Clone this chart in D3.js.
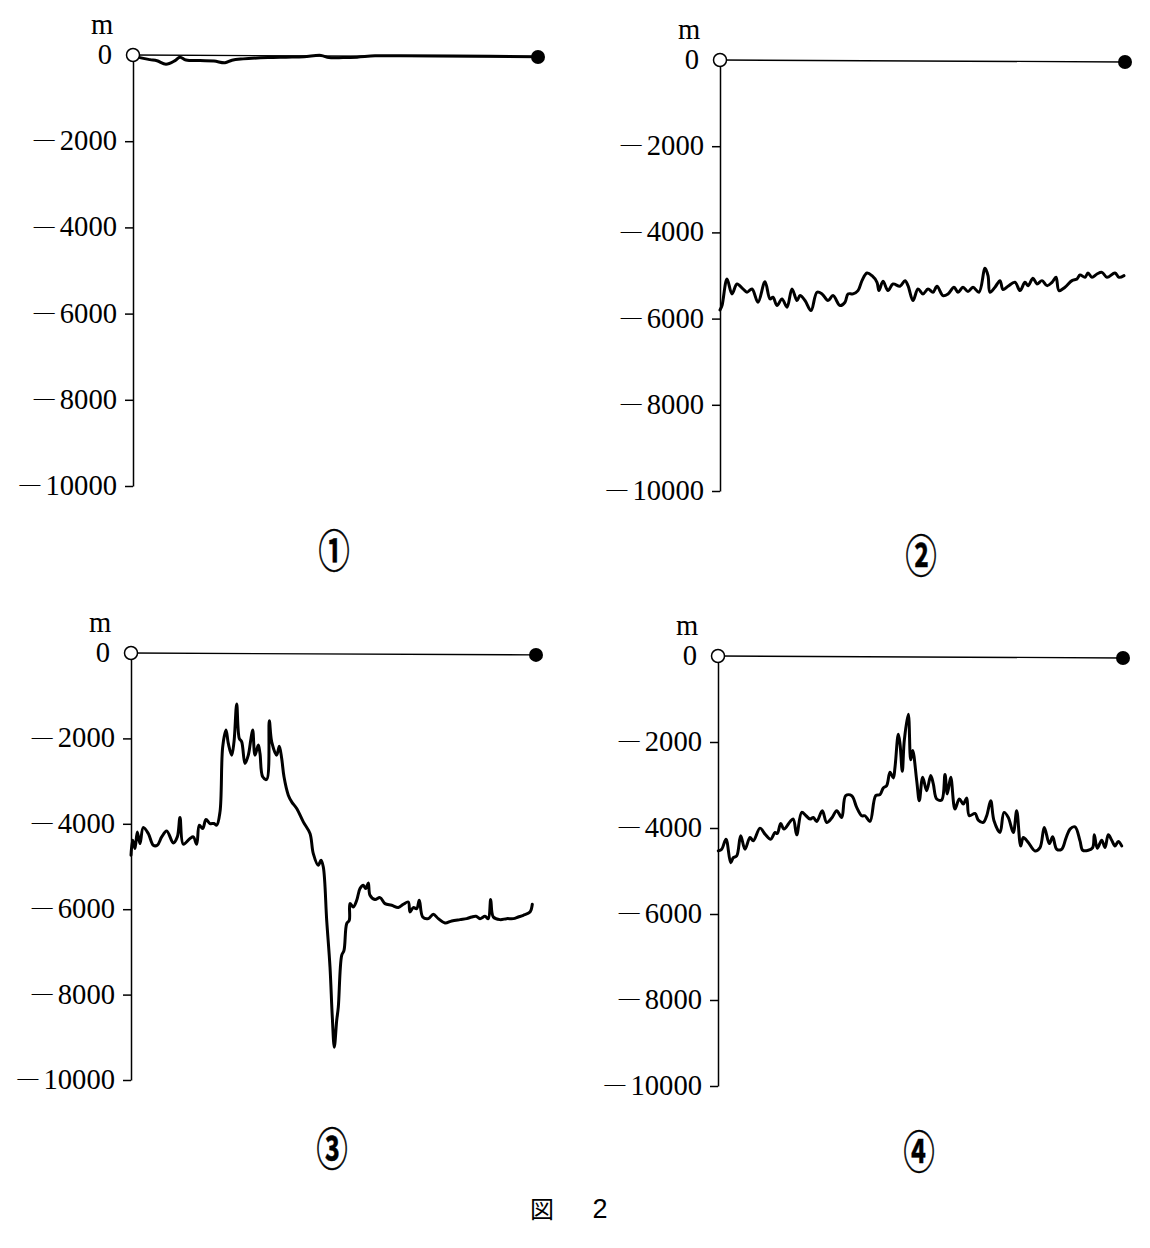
<!DOCTYPE html>
<html>
<head>
<meta charset="utf-8">
<script src="https://cdn.jsdelivr.net/npm/d3@7"></script>
<style>
  html, body { margin: 0; padding: 0; background: #fff; }
  svg { display: block; }
</style>
</head>
<body>
<svg id="chart" width="1150" height="1248"></svg>
<script>
// ---------------- DATA ----------------
// Depth profiles: [distance along profile (0..405 units), depth in m]
const profile1 = [[0,0],[7,-60],[17,-107],[24,-132],[33,-215],[42,-132],[47,-50],[53,-116],[67,-130],[81,-140],[92,-180],[99,-120],[110,-90],[135,-60],[153,-50],[171,-40],[188,-10],[196,-60],[210,-60],[224,-50],[242,-20],[267,-15],[320,-25],[405,-40]];

const profile2 = [[0,-5800],[2,-5697],[7,-5081],[12,-5427],[17,-5196],[23,-5312],[27,-5388],[32,-5312],[38,-5620],[45,-5143],[50,-5543],[53,-5504],[57,-5697],[62,-5543],[67,-5735],[72,-5312],[77,-5581],[80,-5466],[85,-5581],[91,-5812],[97,-5388],[102,-5427],[108,-5581],[113,-5466],[120,-5697],[125,-5620],[128,-5427],[133,-5427],[138,-5350],[142,-5119],[147,-4942],[152,-5004],[157,-5158],[159,-5350],[163,-5135],[168,-5350],[173,-5196],[180,-5250],[185,-5119],[188,-5235],[193,-5581],[198,-5312],[203,-5427],[208,-5312],[213,-5388],[217,-5250],[223,-5466],[228,-5427],[234,-5273],[238,-5388],[243,-5273],[248,-5373],[253,-5273],[259,-5388],[265,-4834],[268,-5004],[270,-5388],[275,-5273],[280,-5119],[283,-5327],[288,-5250],[295,-5158],[300,-5350],[305,-5158],[308,-5235],[313,-5065],[317,-5196],[322,-5119],[327,-5235],[332,-5158],[336,-5042],[339,-5350],[345,-5273],[352,-5119],[357,-5081],[360,-4988],[365,-5042],[368,-4942],[372,-5042],[377,-4965],[382,-4927],[387,-5042],[395,-4942],[399,-5042],[404,-5004]];

const profile3 = [[0,-4736],[1.7,-4385],[4,-4580],[6.3,-4190],[9,-4463],[12.3,-4088],[17.3,-4228],[22.3,-4502],[26.3,-4502],[30.7,-4307],[35.7,-4166],[42.3,-4447],[46.3,-4307],[49,-3853],[52.3,-4478],[59,-4345],[62.3,-4307],[65.7,-4478],[68.3,-4033],[71.7,-4111],[75,-3900],[79,-3994],[83,-3994],[85.7,-4033],[89,-3721],[91.7,-2197],[95,-1805],[97.3,-2118],[100.7,-2392],[103,-2080],[105.7,-1196],[108.3,-2001],[110.7,-2080],[114,-2587],[117.3,-2392],[120,-2001],[121.7,-1805],[124,-2392],[127.3,-2157],[129,-2353],[131.7,-2900],[135.7,-2962],[138.3,-1587],[140.7,-2080],[145.7,-2392],[148.3,-2181],[150.7,-2470],[153,-2900],[157.3,-3329],[160.7,-3486],[165.7,-3642],[172.3,-3955],[179,-4228],[182.3,-4697],[187.3,-4971],[190,-4853],[192.3,-5010],[195.7,-6260],[199,-7355],[201.3,-8527],[203.3,-9231],[205.7,-8605],[207.3,-8293],[210.7,-7081],[213,-6964],[215.7,-6338],[218.3,-6260],[219,-5869],[222.3,-5948],[225.7,-5791],[229,-5517],[232.3,-5440],[234.7,-5517],[237.3,-5386],[239,-5674],[244,-5775],[249,-5728],[254,-5869],[260.7,-5908],[267.3,-5962],[272.3,-5885],[277.3,-5831],[279,-6065],[282.3,-5962],[285.7,-5986],[288.3,-5791],[291.7,-6182],[297.3,-6221],[302.3,-6120],[307.3,-6221],[314,-6323],[320.7,-6276],[329,-6244],[335.7,-6221],[340.7,-6182],[345,-6166],[349,-6221],[354,-6166],[357.3,-6221],[359.7,-5775],[362.3,-6182],[369,-6244],[375.7,-6221],[382.3,-6221],[387.3,-6182],[392.3,-6143],[399,-6065],[401.3,-5885]];

const profile4 = [[0.3,-4533],[3.7,-4493],[8,-4260],[12.7,-4806],[15.3,-4689],[18.7,-4650],[22.7,-4182],[27,-4493],[32,-4221],[35.3,-4299],[42,-4003],[47,-4143],[52.7,-4260],[57,-4105],[59.3,-4128],[62.7,-3894],[66,-4026],[72.7,-3832],[75.3,-3793],[78.7,-4159],[83.7,-3637],[88,-3715],[92,-3793],[95.3,-3754],[98.7,-3847],[104.3,-3598],[108.7,-3871],[113.7,-3769],[118.7,-3598],[123.7,-3754],[127.7,-3248],[133.7,-3248],[138.7,-3520],[143.7,-3715],[147,-3715],[152,-3847],[157.7,-3248],[162,-3224],[165.3,-3069],[168.7,-3014],[172,-2703],[175.3,-2835],[177,-2586],[180.3,-1822],[182,-2040],[184.3,-2680],[186.3,-1963],[190.3,-1355],[192.7,-2414],[194.7,-2196],[198.7,-2897],[201.3,-3364],[204.7,-2820],[208.7,-3131],[212.7,-2780],[215.3,-2975],[218.7,-3325],[223.7,-3348],[227,-2757],[229.3,-3208],[232.7,-2820],[237,-3558],[241.3,-3325],[245.3,-3442],[248.7,-3301],[251.3,-3715],[257,-3661],[260.3,-3816],[265.3,-3871],[268.7,-3715],[272.7,-3364],[276,-3832],[282,-4105],[286,-3637],[290.3,-3754],[295.3,-4105],[298.7,-3598],[302.7,-4416],[305.3,-4222],[310.3,-4338],[317,-4533],[322,-4455],[326.3,-3988],[331.3,-4362],[334.7,-4206],[338.7,-4493],[343.7,-4493],[348,-4236],[352,-4026],[357,-3972],[362,-4299],[364.7,-4517],[370.3,-4517],[374.7,-4455],[376.3,-4159],[379.3,-4470],[383.7,-4283],[387,-4455],[390.3,-4159],[393.7,-4283],[397,-4416],[400.3,-4315],[403.7,-4416]];

const profiles = [profile1, profile2, profile3, profile4];
const distanceDomain = [0, 405];
const depthDomain = [0, -10000];
const yTicks = [0, -2000, -4000, -6000, -8000, -10000];
const tickLabels = ["0", "2000", "4000", "6000", "8000", "10000"];
const unitLabel = "m";
const panelLabels = ["①", "②", "③", "④"];
const endDepth = [-45, -45, -45, -45];   // depth at the end marker (filled circle)
const figureLabel = ["図", "2"];

// ---------------- LAYOUT ----------------
const layout = [
  { ax: 133, y0: 55,  y1: 486 },
  { ax: 720, y0: 60,  y1: 491 },
  { ax: 131, y0: 653, y1: 1080 },
  { ax: 718, y0: 656, y1: 1086 }
];
const plotWidth = 405;

const svg = d3.select("#chart");
const serif = "'Liberation Serif', 'Times New Roman', serif";

function serifText(parent, x, y, anchor) {
  return parent.append("g")
    .attr("transform", `translate(${x},${y}) scale(1.04,1.1)`)
    .append("text")
    .attr("x", 0).attr("y", 0)
    .attr("text-anchor", anchor)
    .attr("font-family", serif)
    .attr("font-size", 27.5)
    .attr("fill", "#000");
}

profiles.forEach((data, i) => {
  const L = layout[i];
  const x = d3.scaleLinear().domain(distanceDomain).range([L.ax, L.ax + plotWidth]);
  const y = d3.scaleLinear().domain(depthDomain).range([L.y0, L.y1]);
  const g = svg.append("g");

  // y axis (ticks on left)
  const axis = d3.axisLeft(y)
    .tickValues(yTicks.slice(1))
    .tickSize(8)
    .tickSizeOuter(0)
    .tickFormat("");
  const ag = g.append("g").attr("transform", `translate(${L.ax},0)`).call(axis);
  ag.selectAll("path.domain").attr("stroke", "#000").attr("stroke-width", 1.5);
  ag.selectAll(".tick line").attr("stroke", "#000").attr("stroke-width", 1.5);

  // tick labels
  yTicks.forEach((t, k) => {
    const txt = serifText(g, L.ax - (k === 0 ? 21 : 16), y(t) + 9, "end");
    if (k === 0) {
      txt.text(tickLabels[k]);
    } else {
      txt.append("tspan").attr("font-size", 20).attr("dy", -3.5).text("—");
      txt.append("tspan").attr("dx", 5).attr("dy", 3.5).text(tickLabels[k]);
    }
  });

  // unit label
  serifText(g, L.ax - 31, L.y0 - 21, "middle").text(unitLabel);

  // sea surface line between markers
  const lastX = distanceDomain[1];
  g.append("line")
    .attr("x1", x(0)).attr("y1", y(0))
    .attr("x2", x(lastX)).attr("y2", y(endDepth[i]))
    .attr("stroke", "#000").attr("stroke-width", 1.4);

  // profile line
  const line = d3.line()
    .curve(d3.curveCatmullRom.alpha(0.5))
    .x(d => x(d[0])).y(d => y(d[1]));
  g.append("path")
    .datum(data)
    .attr("d", line)
    .attr("fill", "none")
    .attr("stroke", "#000")
    .attr("stroke-width", 3)
    .attr("stroke-linejoin", "round")
    .attr("stroke-linecap", "round");

  // start (open) and end (filled) markers
  g.append("circle")
    .attr("cx", x(0)).attr("cy", y(0)).attr("r", 6.5)
    .attr("fill", "#fff").attr("stroke", "#000").attr("stroke-width", 1.5);
  g.append("circle")
    .attr("cx", x(lastX)).attr("cy", y(endDepth[i])).attr("r", 7)
    .attr("fill", "#000");

  // panel label
  g.append("g")
    .attr("transform", `translate(${L.ax + 201},${L.y0 + 493}) scale(0.82,1.2)`)
    .append("text")
    .attr("text-anchor", "middle")
    .attr("dominant-baseline", "central")
    .attr("font-family", "'Noto Sans CJK JP', sans-serif")
    .attr("font-weight", 700)
    .attr("font-size", 38)
    .attr("stroke", "#000")
    .attr("stroke-width", 0.4)
    .text(panelLabels[i]);
});

// figure caption
svg.append("text")
  .attr("x", 542).attr("y", 1207)
  .attr("text-anchor", "middle")
  .attr("dominant-baseline", "central")
  .attr("font-family", "'Noto Sans CJK JP', sans-serif")
  .attr("font-size", 24)
  .text(figureLabel[0]);
svg.append("text")
  .attr("x", 600).attr("y", 1218)
  .attr("text-anchor", "middle")
  .attr("font-family", "'Liberation Sans', Arial, sans-serif")
  .attr("font-size", 27)
  .text(figureLabel[1]);
</script>
</body>
</html>
